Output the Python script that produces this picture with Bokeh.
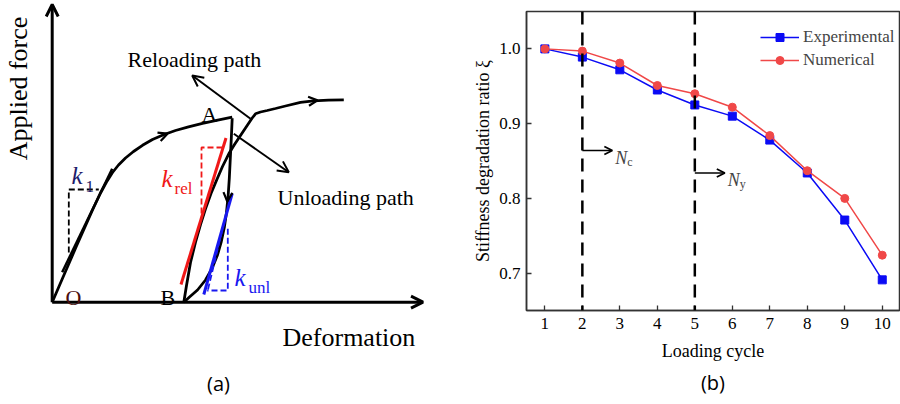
import math
from bokeh.plotting import figure
from bokeh.layouts import row
from bokeh.models import (Range1d, Arrow, OpenHead, Label, Legend, LegendItem,
                          FixedTicker, LinearAxis, PrintfTickFormatter, Span)
from bokeh.embed import file_html
from bokeh.resources import INLINE

SERIF = "Liberation Serif"
SANS = "Open Sans"

# ---------------- (b) stiffness degradation per loading cycle ----------------
cycles = [1, 2, 3, 4, 5, 6, 7, 8, 9, 10]
experimental = [1.000, 0.989, 0.972, 0.945, 0.925, 0.910, 0.878, 0.834, 0.771, 0.691]
numerical = [1.000, 0.997, 0.981, 0.951, 0.940, 0.922, 0.884, 0.837, 0.800, 0.724]
y_ticks = [0.7, 0.8, 0.9, 1.0]
stage_cycles = [2, 5]            # cracking (N_c) and yielding (N_y) cycles
stage_subscripts = ["c", "y"]
stage_arrow_y = [0.864, 0.834]
stage_arrow_len = 0.8

# ---------------- (a) schematic force-deformation loop ----------------
# coordinates of the sketch in canvas pixels (y grows downward)
origin = (51.7, 301.7)
force_axis_tip = (51.7, 4.0)
deform_axis_tip = (422.5, 301.7)

loading_x = [51.7, 60, 68, 76, 84, 92, 100, 106, 112, 118, 125, 133, 142, 152, 163, 175, 188, 202, 216, 231.7]
loading_y = [301.7, 282.5, 264, 245.5, 227.5, 209.5, 192.5, 181.5, 172, 164.5, 157.5, 151, 144.8, 139,
             134.2, 130, 126.3, 122.8, 119.8, 116.7]

unloading_x = [231.7, 230.8, 229.8, 228.8, 227.6, 226, 223.8, 220.8, 216.8, 211.5, 205, 197, 189, 183.3]
unloading_y = [117.7, 138, 158, 178, 196, 212, 227, 241, 255, 268, 279.5, 289.5, 296.5, 301.7]

reloading_x = [183.3, 186, 190, 195, 200, 205, 210.5, 216.7, 222, 228.3, 234, 240, 246, 251.7, 255,
               260, 266.7, 275, 285, 300, 313, 328, 343.3]
reloading_y = [301.7, 285, 262, 241.7, 224, 208.3, 193, 178.3, 166, 153.3, 144, 135, 126, 117.5, 113.3,
               111.5, 110, 108, 105.5, 101.8, 100.3, 99.6, 99.3]

# stiffness tangents: (x0, y0, x1, y1)
k1_tangent = (61.7, 271.7, 111.7, 168.3)
krel_tangent = (180.5, 284.0, 225.5, 137.5)
kunl_tangent = (203.3, 294.0, 231.7, 193.0)

# dashed slope triangles
k1_dash_x = [68.3, 68.3, 98.3]
k1_dash_y = [252.0, 189.0, 189.0]
krel_dash_x = [201.0, 201.0, 222.5]
krel_dash_y = [213.0, 147.0, 147.0]
kunl_dash_x = [227.3, 227.3, 206.7]
kunl_dash_y = [228.3, 290.0, 290.0]
kunl_hyp = (207.5, 289.0, 223.5, 222.0)

# direction markers on the curves: (x_start, y_start, x_end, y_end)
curve_arrows = [(157.0, 137.0, 167.0, 133.2),
                (307.0, 100.9, 317.0, 99.9),
                (227.6, 190.0, 226.8, 201.0)]
# pointers to the path captions
pointer_reload = (250.0, 118.3, 191.7, 75.0)
pointer_unload = (233.3, 133.3, 288.3, 171.7)

RED = "#f01818"
BLUE = "#1818f0"
NAVY = "#1c1c6a"
LINE_W = 2.8
PAGE_H = 404

pa = figure(width=460, height=PAGE_H, x_range=Range1d(0, 460), y_range=Range1d(PAGE_H, 0),
            output_backend="svg", toolbar_location=None,
            x_axis_location=None, y_axis_location=None, min_border=0,
            outline_line_color=None)
pa.grid.visible = False
pa.frame_align = False

# coordinate axes
pa.add_layout(Arrow(x_start=origin[0], y_start=origin[1], x_end=force_axis_tip[0], y_end=force_axis_tip[1],
                    line_width=3, line_color="black",
                    end=OpenHead(size=12, line_width=3, line_color="black")))
pa.add_layout(Arrow(x_start=origin[0], y_start=origin[1], x_end=deform_axis_tip[0], y_end=deform_axis_tip[1],
                    line_width=3, line_color="black",
                    end=OpenHead(size=12, line_width=3, line_color="black")))

# loading, unloading and reloading paths
pa.line(loading_x, loading_y, line_width=LINE_W, color="black")
pa.line(unloading_x, unloading_y, line_width=LINE_W, color="black")
pa.line(reloading_x, reloading_y, line_width=LINE_W, color="black")

for xs, ys, xe, ye in curve_arrows:
    pa.add_layout(Arrow(x_start=xs, y_start=ys, x_end=xe, y_end=ye, line_alpha=0,
                        end=OpenHead(size=9, line_width=2.2, line_color="black")))

# tangent lines
pa.segment(x0=[k1_tangent[0]], y0=[k1_tangent[1]], x1=[k1_tangent[2]], y1=[k1_tangent[3]],
           line_width=2.5, color="black")
pa.segment(x0=[krel_tangent[0]], y0=[krel_tangent[1]], x1=[krel_tangent[2]], y1=[krel_tangent[3]],
           line_width=3, color=RED)
pa.segment(x0=[kunl_tangent[0]], y0=[kunl_tangent[1]], x1=[kunl_tangent[2]], y1=[kunl_tangent[3]],
           line_width=3, color=BLUE)

pa.line(k1_dash_x, k1_dash_y, line_width=1.8, color="black", line_dash="6 3")
pa.line(krel_dash_x, krel_dash_y, line_width=1.8, color=RED, line_dash="6 3")
pa.line(kunl_dash_x, kunl_dash_y, line_width=1.8, color=BLUE, line_dash="6 3")
pa.segment(x0=[kunl_hyp[0]], y0=[kunl_hyp[1]], x1=[kunl_hyp[2]], y1=[kunl_hyp[3]],
           line_width=1.8, color=BLUE, line_dash="6 3")

# caption pointers
for xs, ys, xe, ye in (pointer_reload, pointer_unload):
    pa.add_layout(Arrow(x_start=xs, y_start=ys, x_end=xe, y_end=ye, line_width=2, line_color="black",
                        end=OpenHead(size=11, line_width=2, line_color="black")))


def put(fig, x, y, text, size, color="black", font=SERIF, style="normal",
        align="left", baseline="alphabetic", angle=0.0):
    fig.add_layout(Label(x=x, y=y, text=text, text_font=font, text_font_size=f"{size}px",
                         text_color=color, text_font_style=style, text_align=align,
                         text_baseline=baseline, angle=angle))


put(pa, 18, 88, "Applied force", 26, align="center", baseline="middle", angle=math.pi / 2)
put(pa, 282, 337, "Deformation", 26)
put(pa, 127, 59, "Reloading  path", 22)
put(pa, 277, 197, "Unloading  path", 22)
put(pa, 201, 114, "A", 22)
put(pa, 160, 297, "B", 22)
put(pa, 65, 297, "O", 22, color="#4a0f0f")
put(pa, 71, 175, "k", 25, color=NAVY, style="italic")
put(pa, 85, 186, "1", 17, color=NAVY)
put(pa, 161, 178, "k", 25, color=RED, style="italic")
put(pa, 174, 188, "rel", 17, color=RED)
put(pa, 234, 277, "k", 25, color=BLUE, style="italic")
put(pa, 248, 287, "unl", 17, color=BLUE)
put(pa, 218, 383, "(a)", 20, font=SANS, align="center", baseline="middle")

# ---------------- (b) chart ----------------
EXP_COLOR = "#0b0bf5"
NUM_COLOR = "#f04848"

pb = figure(width=440, height=PAGE_H, x_range=Range1d(0.51, 10.46), y_range=Range1d(0.65, 1.05),
            output_backend="svg", toolbar_location=None,
            min_border_left=66, min_border_right=1, min_border_top=11, min_border_bottom=94)
pb.frame_align = False
pb.grid.visible = False
pb.outline_line_color = "#333333"
pb.outline_line_width = 1.5

pb.xaxis.ticker = FixedTicker(ticks=cycles)
pb.yaxis.ticker = FixedTicker(ticks=y_ticks)
pb.yaxis.formatter = PrintfTickFormatter(format="%.1f")
for ax in (pb.xaxis[0], pb.yaxis[0]):
    ax.major_tick_in = 5
    ax.major_tick_out = 0
    ax.major_tick_line_color = "#333333"
    ax.major_tick_line_width = 1.3
    ax.minor_tick_line_color = None
    ax.axis_line_color = "#333333"
    ax.axis_line_width = 1.5
    ax.major_label_text_font = SERIF
    ax.major_label_text_font_size = "17px"
    ax.major_label_text_color = "black"
    ax.axis_label_text_font = SERIF
    ax.axis_label_text_font_size = "18px"
    ax.axis_label_text_font_style = "normal"
    ax.axis_label_text_color = "black"
pb.xaxis.major_label_standoff = 7
pb.yaxis.major_label_standoff = 6
pb.xaxis.axis_label = "Loading cycle"
pb.xaxis.axis_label_standoff = 9
pb.yaxis.axis_label = "Stiffness degradation ratio ξ"
pb.yaxis.axis_label_standoff = 3

caption = LinearAxis(ticker=FixedTicker(ticks=[]), axis_label="(b)", axis_line_color=None,
                     major_tick_line_color=None, minor_tick_line_color=None,
                     axis_label_text_font=SANS, axis_label_text_font_size="20px",
                     axis_label_text_font_style="normal", axis_label_text_color="black",
                     axis_label_standoff=5)
pb.add_layout(caption, "below")

# stage boundaries
for c, yv, sub in zip(stage_cycles, stage_arrow_y, stage_subscripts):
    pb.add_layout(Span(location=c, dimension="height", line_color="black", line_width=2.5,
                       line_dash="13 8"))
    pb.add_layout(Arrow(x_start=c, y_start=yv, x_end=c + stage_arrow_len, y_end=yv,
                        line_width=1.6, line_color="black",
                        end=OpenHead(size=8, line_width=1.8, line_color="black")))
    pb.add_layout(Label(x=c + stage_arrow_len, y=yv, x_offset=3, y_offset=-7, text="N",
                        text_font=SERIF, text_font_size="18px", text_font_style="italic",
                        text_baseline="alphabetic"))
    pb.add_layout(Label(x=c + stage_arrow_len, y=yv, x_offset=15, y_offset=-11, text=sub,
                        text_font=SERIF, text_font_size="12px", text_baseline="alphabetic"))

exp_line = pb.line(cycles, experimental, color=EXP_COLOR, line_width=1.5)
exp_pts = pb.scatter(cycles, experimental, marker="square", size=8, color=EXP_COLOR)
num_line = pb.line(cycles, numerical, color=NUM_COLOR, line_width=1.5)
num_pts = pb.scatter(cycles, numerical, marker="circle", size=8, color=NUM_COLOR)

legend = Legend(items=[LegendItem(label="Experimental", renderers=[exp_line, exp_pts]),
                       LegendItem(label="Numerical", renderers=[num_line, num_pts])],
                location=(234, 240), padding=0, margin=0, spacing=3,
                glyph_width=39, glyph_height=20, label_height=20, label_standoff=4,
                label_text_font=SERIF, label_text_font_size="17px",
                border_line_color=None, background_fill_alpha=0)
pb.add_layout(legend)

layout = row(pa, pb, spacing=0)
open("out.html", "w").write(file_html(layout, INLINE))
